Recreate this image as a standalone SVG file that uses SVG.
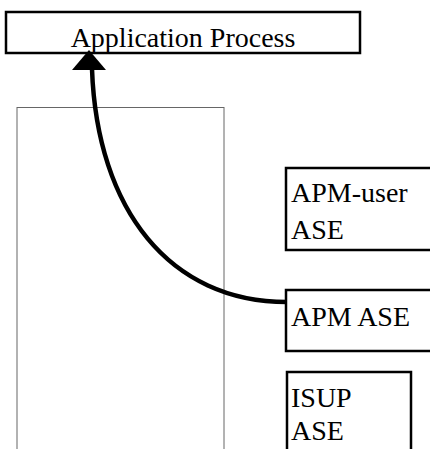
<svg xmlns="http://www.w3.org/2000/svg" width="430" height="449" viewBox="0 0 430 449">
<style>
.box{fill:#fff;stroke:#000;stroke-width:2.5}
.thin{fill:none;stroke:#666;stroke-width:1}
.t{font-family:"Liberation Serif",serif;font-size:28px;fill:#000}
.conn{fill:none;stroke:#000;stroke-width:4.5}
</style>
<g id="container">
<rect class="thin" x="17" y="107.5" width="207" height="360"/>
</g>
<g id="app">
<rect class="box" x="6" y="12" width="354" height="41"/>
<text class="t" x="183" y="46.5" text-anchor="middle">Application Process</text>
</g>
<g id="apmuser">
<rect class="box" x="286" y="168" width="160" height="82"/>
<text class="t" x="291" y="202">APM-user</text>
<text class="t" x="291" y="238.5">ASE</text>
</g>
<g id="apm">
<rect class="box" x="286" y="290" width="160" height="61"/>
<text class="t" x="291" y="326">APM ASE</text>
</g>
<g id="isup">
<rect class="box" x="287" y="372" width="124" height="100"/>
<text class="t" x="291" y="406.5">ISUP</text>
<text class="t" x="291" y="440">ASE</text>
</g>
<g id="connectors">
<path class="conn" d="M287,302 C170,302 97,210 92,69"/>
<polygon points="89,50 106,70 72,70" fill="#000"/>
</g>
</svg>
